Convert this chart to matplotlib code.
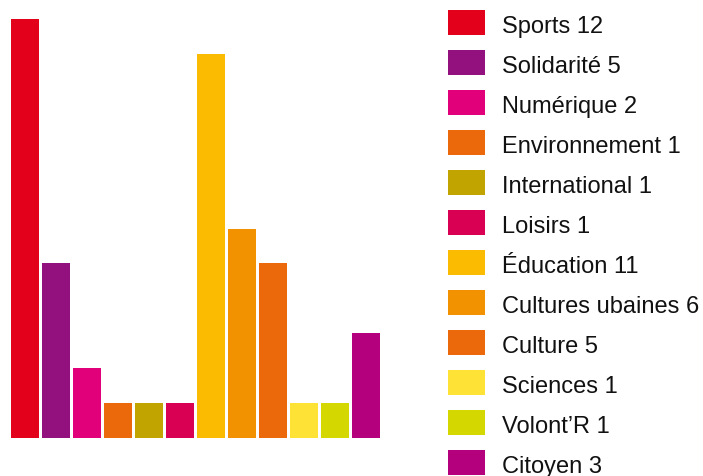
import matplotlib.pyplot as plt
from matplotlib.patches import Rectangle

# données
categories = ["Sports", "Solidarité", "Numérique", "Environnement", "International",
              "Loisirs", "Éducation", "Cultures ubaines", "Culture", "Sciences",
              "Volont’R", "Citoyen"]
values = [12, 5, 2, 1, 1, 1, 11, 6, 5, 1, 1, 3]
colors = ["#E2001A", "#93117E", "#E2007A", "#EB690B", "#C2A400", "#D90054",
          "#FABB00", "#F39200", "#EB690B", "#FFE236", "#D4D700", "#B5007E"]

W, H = 703, 477
plt.rcParams['font.family'] = ['Liberation Sans', 'DejaVu Sans']

fig = plt.figure(figsize=(W / 100, H / 100), dpi=100)

# zone des barres (en pixels)
ax = fig.add_axes([11 / W, 38 / H, 369 / W, 419 / H])
bar_w = 28 / 31
x = list(range(len(values)))
ax.bar(x, values, width=bar_w, color=colors, linewidth=0)
ax.set_xlim(-bar_w / 2, len(values) - 1 + bar_w / 2)
ax.set_ylim(0, 12)
ax.axis('off')

# légende manuelle
leg = fig.add_axes([0, 0, 1, 1])
leg.set_xlim(0, W)
leg.set_ylim(H, 0)
leg.axis('off')
for i, (name, val, c) in enumerate(zip(categories, values, colors)):
    y0 = 11 + 40 * i
    leg.add_patch(Rectangle((448, y0), 37, 25, color=c, linewidth=0))
    leg.text(502, y0 + 22, f"{name} {val}", fontsize=17, color="#111111",
             va='baseline', ha='left')

fig.savefig("out.png", dpi=100)
